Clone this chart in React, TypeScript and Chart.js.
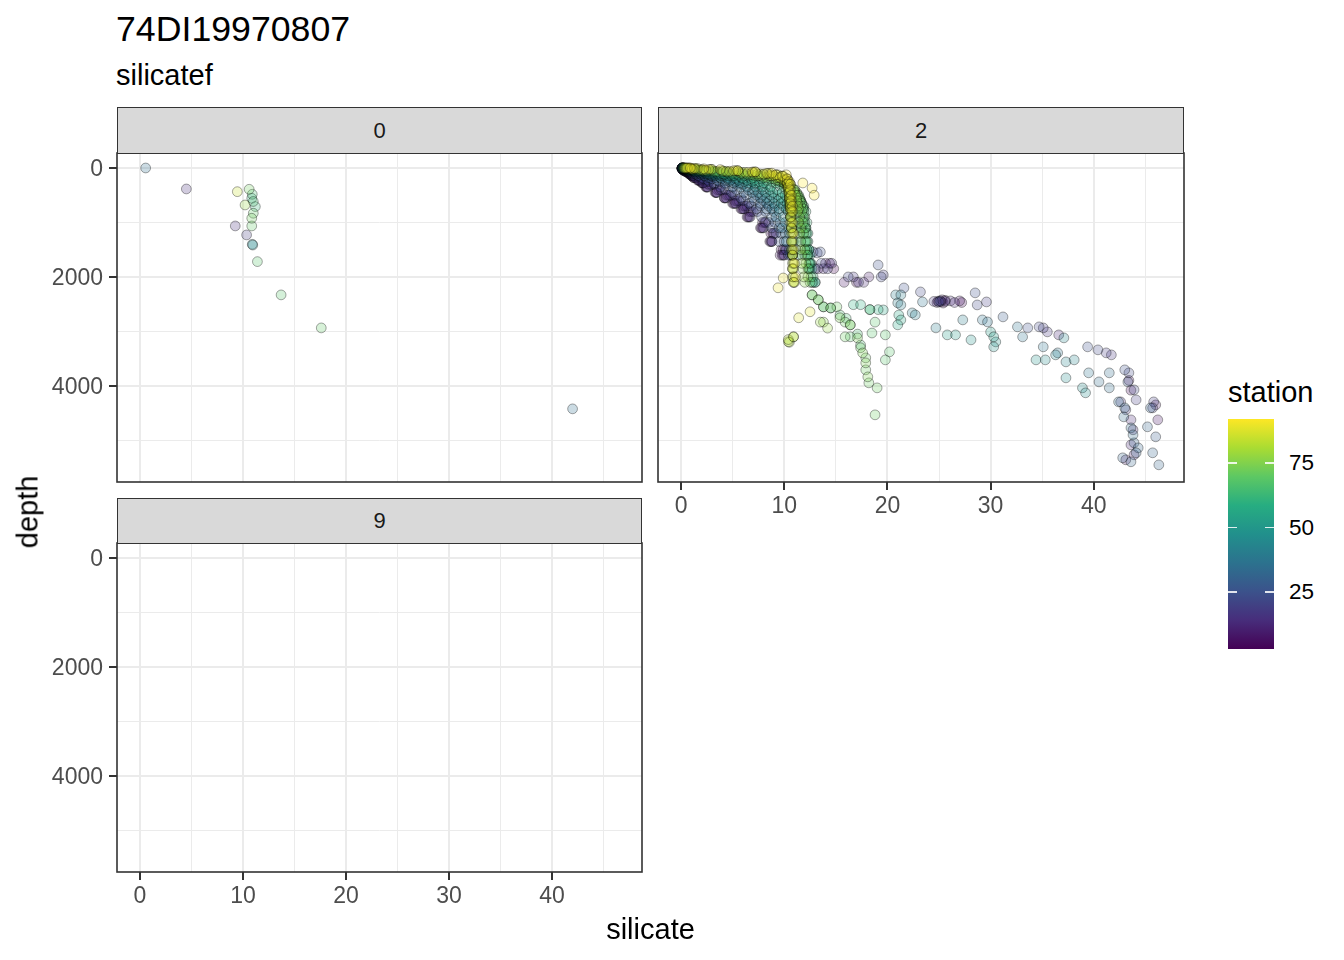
import React, { useEffect, useRef } from "react";
import { Chart, registerables } from "chart.js";

Chart.register(...registerables);

const FONT = "'Liberation Sans', Arial, Helvetica, sans-serif";

// ---- axes ----
const xLimits = [-2.233, 48.74];
const yLimits = [-275, 5765];
const xMajor = [0, 10, 20, 30, 40];
const xMinor = [5, 15, 25, 35, 45];
const yMajor = [0, 2000, 4000];
const yMinor = [1000, 3000, 5000];
const legendBreaks = [25, 50, 75];
const stationRange = [3, 92];

const titleText = "74DI19970807";
const subtitleText = "silicatef";
const xTitle = "silicate";
const yTitle = "depth";
const legendTitle = "station";
const facetLabels = ["0", "2", "9"];

// ---- panel "0" ----
const p0Station = [35, 15, 85, 72, 65, 60, 65, 78, 62, 70, 72, 15, 70, 18, 45, 45, 68, 68, 70, 35];
const p0Silicate = [0.55, 4.5, 9.45, 10.6, 10.9, 10.85, 11.0, 10.2, 11.2, 11.0, 10.85, 9.25, 10.85, 10.35, 10.9, 10.95, 11.4, 13.7, 17.6, 42.0];
const p0Depth = [0, 385, 435, 391, 483, 556, 615, 679, 709, 831, 923, 1064, 1064, 1229, 1401, 1415, 1719, 2330, 2936, 4422];

// ---- panel "2": bottle depths (two sampling schemes) ----
const depthsA = [0, 10, 25, 50, 75, 100, 125, 150, 200, 250, 300, 400, 500, 600, 700, 800, 1000, 1200, 1500, 1750, 2000];
const depthsB = [5, 20, 40, 60, 80, 110, 140, 175, 225, 275, 350, 450, 550, 650, 750, 900, 1100, 1350, 1600, 1850, 2100];

// silicate at those depths, per station
const sil90 = [0.6,1.3,2.7,5.1,6.9,8.3,9.2,9.8,10.3,10.5,10.6,10.6,10.7,10.7,10.8,10.8,10.8,10.9,10.9,11.0,11.1];
const sil88 = [0.5,1.1,2.4,4.7,6.5,8.0,9.0,9.6,10.1,10.3,10.4,10.5,10.5,10.6,10.6,10.6,10.7,10.7,10.8,10.8,10.9];
const sil86 = [0.8,1.6,3.0,5.5,7.2,8.6,9.4,9.9,10.3,10.4,10.5,10.5,10.6,10.6,10.6,10.7,10.7,10.8,10.8,10.9,10.9];
const sil84 = [0.4,1.0,2.2,4.4,6.2,7.7,8.7,9.4,10.0,10.3,10.4,10.5,10.6,10.6,10.7,10.7,10.7,10.8,10.8,10.9,11.0];
const sil82 = [0.7,1.4,2.9,5.3,7.0,8.4,9.2,9.8,10.2,10.3,10.4,10.4,10.5,10.5,10.6,10.6,10.6,10.7,10.7,10.8,10.8];
const sil80 = [0.3,0.9,2.0,4.1,5.9,7.4,8.5,9.2,9.9,10.2,10.3,10.4,10.5,10.5,10.6,10.6,10.7,10.7,10.8,10.8,10.9];
const sil78 = [0.5,1.0,2.0,4.0,5.6,7.0,8.0,8.8,9.7,10.2,10.6,10.9,11.1,11.2,11.3,11.3,11.4,11.5,11.6,11.7,11.9];
const sil76 = [0.4,0.9,1.8,3.5,5.0,6.4,7.5,8.3,9.4,10.0,10.5,11.0,11.2,11.3,11.4,11.5,11.6,11.6,11.7,11.8,12.0];
const sil74 = [0.4,0.7,1.5,3.0,4.4,5.8,6.9,7.8,9.0,9.8,10.4,11.0,11.3,11.5,11.6,11.7,11.8,11.9,12.0,12.1,12.3];
const sil71 = [0.5,0.8,1.6,3.2,4.6,6.0,7.1,8.0,9.2,10.0,10.6,11.2,11.5,11.7,11.8,11.9,12.0,12.1,12.2,12.3,12.5];
const sil68 = [0.3,0.6,1.3,2.7,4.0,5.4,6.5,7.4,8.7,9.6,10.3,11.0,11.4,11.6,11.8,11.9,12.0,12.1,12.2,12.4,12.6];
const sil65 = [0.3,0.6,1.2,2.5,3.7,5.0,6.1,7.0,8.3,9.2,10.0,10.9,11.4,11.7,11.9,12.0,12.1,12.2,12.3,12.4,12.7];
const sil62 = [0.2,0.5,1.1,2.3,3.4,4.6,5.6,6.5,7.8,8.8,9.6,10.6,11.2,11.6,11.9,12.1,12.2,12.3,12.4,12.5,12.8];
const sil59 = [0.3,0.5,1.1,2.2,3.2,4.2,5.1,5.9,7.1,8.0,8.7,9.8,10.5,11.1,11.5,11.8,12.1,12.3,12.5,12.7,13.0];
const sil57 = [0.3,0.5,1.0,2.1,3.0,4.0,4.8,5.6,6.8,7.6,8.3,9.3,10.1,10.7,11.2,11.5,11.9,12.2,12.4,12.6];
const sil55 = [0.3,0.5,1.0,2.0,2.9,3.8,4.6,5.3,6.4,7.2,7.9,8.9,9.7,10.3,10.8,11.2,11.7,12.0,12.3,12.5,12.8];
const sil52 = [0.2,0.4,0.9,1.8,2.6,3.5,4.2,4.9,6.0,6.9,7.6,8.6,9.4,10.0,10.5,10.9,11.4,11.8,12.2,12.5];
const sil49 = [0.2,0.4,0.8,1.6,2.4,3.2,3.9,4.5,5.6,6.5,7.2,8.2,9.0,9.7,10.2,10.6,11.2,11.6,12.0,12.4,13.0];
const sil46 = [0.2,0.4,0.7,1.5,2.2,2.9,3.6,4.2,5.3,6.1,6.8,7.9,8.7,9.4,9.9,10.4,11.0,11.5,12.0];
const sil43 = [0.2,0.3,0.7,1.3,2.0,2.7,3.3,3.8,4.8,5.7,6.4,7.5,8.3,9.0,9.5,9.9,10.5,10.9,11.4];
const sil40 = [0.2,0.3,0.6,1.2,1.9,2.5,3.0,3.6,4.5,5.3,6.0,7.1,7.9,8.6,9.1,9.5,10.1,10.5,11.1];
const sil37 = [0.2,0.3,0.6,1.2,1.8,2.4,2.9,3.4,4.3,5.1,5.8,6.9,7.7,8.3,8.8,9.2,9.8,10.2,10.8];
const sil34 = [0.2,0.3,0.5,1.0,1.6,2.1,2.6,3.0,3.9,4.7,5.4,6.5,7.3,8.0,8.5,9.0,9.6,10.1,10.7];
const sil31 = [0.1,0.3,0.5,0.9,1.4,1.9,2.3,2.7,3.5,4.3,5.0,6.1,7.0,7.7,8.3,8.8,9.5,10.0,10.6];
const sil28 = [0.1,0.2,0.4,0.8,1.2,1.6,2.0,2.3,3.0,3.7,4.3,5.4,6.3,7.1,7.7,8.2,9.1,9.7,10.5];
const sil25 = [0.1,0.2,0.4,0.7,1.0,1.4,1.7,2.0,2.6,3.2,3.8,4.9,5.8,6.6,7.3,7.8,8.8,9.5,10.4,13.0];
const sil22 = [0.1,0.2,0.3,0.6,0.9,1.2,1.5,1.7,2.2,2.7,3.2,4.3,5.2,6.0,6.8,7.4,8.5,9.2,10.2,13.6,16.2];
const sil19 = [0.1,0.2,0.3,0.5,0.8,1.0,1.2,1.4,1.8,2.2,2.6,3.5,4.4,5.3,6.1,6.7,8.0,8.8,10.0,14.2,17.2];
const sil16 = [0.1,0.2,0.3,0.5,0.8,1.1,1.3,1.5,2.0,2.5,2.9,3.9,4.8,5.6,6.4,7.0,8.2,9.0,10.1,14.6,16.7];
const sil13 = [0.1,0.1,0.2,0.4,0.7,0.9,1.1,1.3,1.7,2.1,2.5,3.4,4.2,5.1,5.9,6.5,7.8,8.7,9.8,13.8,17.7];
const sil10 = [0.1,0.2,0.3,0.5,0.8,1.0,1.2,1.4,1.9,2.3,2.7,3.7,4.6,5.4,6.2,6.8,8.1,8.9,9.9,14.0,18.2];
const sil7 = [0.1,0.1,0.2,0.4,0.6,0.8,1.0,1.2,1.6,2.0,2.4,3.3,4.2,5.0,5.8,6.4,7.7,8.6,9.6,13.3,15.8];
const sil5 = [0.1,0.2,0.3,0.5,0.7,0.9,1.1,1.3,1.8,2.2,2.6,3.5,4.4,5.2,6.0,6.6,7.9,8.7,9.7,14.4];
const sil3 = [0.1,0.1,0.2,0.4,0.6,0.8,1.0,1.2,1.7,2.1,2.5,3.4,4.3,5.2,6.0,6.6,7.9,8.8,9.9,14.8,17.0];

// extra / deep bottles per station: [silicate, depth]
const extra92 = [[0.9,0],[2.2,15],[3.8,30],[5.5,50],[7.2,70],[8.8,95],[10.2,125],[11.8,275],[12.7,370],[12.9,500]];
const deep90 = [[9.9,2020],[9.4,2200]];
const deep88 = [[11.4,2750],[12.5,2640]];
const deep86: number[][] = [];
const deep84 = [[10.9,3100]];
const deep82 = [[10.4,3190],[10.4,3150]];
const deep80 = [[10.9,3100],[10.5,3200]];
const deep78 = [[13.5,2830],[14.2,2940]];
const deep76 = [[12.7,2330],[13.3,2420],[13.8,2830]];
const deep74 = [[13.8,2550],[14.5,2570],[15.4,2750],[16.4,2880],[17.1,3120],[17.6,3395],[17.9,3578],[18.1,3835]];
const deep71 = [[15.1,2550],[15.9,2830],[15.9,3100],[17.4,3300],[17.9,3486],[17.9,3706],[18.2,3945],[19,4037],[18.8,4532]];
const deep68 = [[16.4,2880],[16.4,3100],[18.8,2830],[18.5,3030],[19.8,3064],[20.2,3376],[19.8,3523]];
const deep65 = [[15.4,2700],[16,2760],[17.1,3050],[17.4,3250],[18.3,2600]];
const deep62 = [[12.7,2330],[13.3,2420]];
const deep59 = [[16.7,2510],[17.4,2510],[18.3,2600],[19.1,2600]];
const deep57 = [[13.8,2550],[14.5,2570]];
const deep55 = [[19.6,2606],[21.1,2700],[21.3,2790],[21,2880]];
const deep52 = [[25.8,3064],[26.6,3064],[30,3010],[30.3,3100]];
const deep49 = [[28.1,3156],[30.5,3193],[30.3,3284],[34.4,3523]];
const deep46 = [[35.3,3523],[37.3,3853],[38.9,4037],[39.2,4128]];
const deep43 = [[36.3,3431],[37.1,3119],[37.3,3560],[38.1,3523]];
const deep40 = [[20.8,2330],[21.3,2330],[21,2477],[21.3,2514],[22.4,2660],[22.7,2697],[24.7,2936],[27.3,2789]];
const deep37 = [[23.4,2459],[29.2,2789],[29.7,2826],[32.6,2917],[33.1,3101],[35.1,3284],[36.5,3394],[39.5,3761]];
const deep34 = [[40.5,3927],[41.5,4037],[41.5,3761],[42.4,4294],[43,4404],[42.9,4569],[43.6,4771],[43.8,4899]];
const deep31 = [[43.9,5046],[44.3,5138],[44.1,5229],[42.8,5321],[43.6,5394],[45.5,4404],[45.2,4752],[45.7,5229],[46.3,5450]];
const deep28 = [[46,4936],[43.3,3927],[31.2,2734]];
const deep25 = [[12.8,1541],[13.5,1541],[19.1,1780],[21.6,2202],[25,2459],[28.5,2293],[33.6,2936],[39.4,3284],[43,3706]];
const deep22 = [[13.2,1560],[19.4,2000],[23.2,2275],[25.1,2440],[28.7,2514],[34.7,2917],[40.4,3339],[43.4,3761],[43.9,4073]];
const deep19 = [[19.6,1963],[25.6,2450],[29.6,2459],[35.1,2936],[41.2,3394],[44.1,4257],[45.8,4294],[45.7,4404]];
const deep16 = [[24.5,2450],[35.5,3009],[41.7,3431],[42.6,4294],[43.1,4440]];
const deep13 = [[26.1,2440],[26.5,2470],[36.6,3064],[43.6,4624],[43.8,4807],[43.6,5083]];
const deep10 = [[24.8,2470],[25.3,2420],[43.9,5266],[43.1,5358]];
const deep7 = [[25.2,2455],[27,2440],[46,4349],[46.2,4624]];
const deep5 = [[25.4,2480],[27.2,2470],[43.4,3900],[43.6,4080]];
const deep3 = [[24.9,2445],[25.6,2430]];

// [station, depth set, silicate at those depths, extra bottles]
const panel2Stations: [number, number[], number[], number[][]][] = [
  [92, [], [], extra92],
  [90, depthsA, sil90, deep90], [88, depthsB, sil88, deep88], [86, depthsA, sil86, deep86],
  [84, depthsB, sil84, deep84], [82, depthsA, sil82, deep82], [80, depthsB, sil80, deep80],
  [78, depthsA, sil78, deep78], [76, depthsB, sil76, deep76],
  [74, depthsA, sil74, deep74], [71, depthsB, sil71, deep71], [68, depthsA, sil68, deep68],
  [65, depthsB, sil65, deep65], [62, depthsA, sil62, deep62],
  [59, depthsB, sil59, deep59], [57, depthsA, sil57, deep57],
  [55, depthsB, sil55, deep55], [52, depthsA, sil52, deep52], [49, depthsB, sil49, deep49], [46, depthsA, sil46, deep46],
  [43, depthsB, sil43, deep43], [40, depthsA, sil40, deep40],
  [37, depthsB, sil37, deep37], [34, depthsA, sil34, deep34], [31, depthsB, sil31, deep31],
  [28, depthsA, sil28, deep28], [25, depthsB, sil25, deep25],
  [22, depthsA, sil22, deep22], [19, depthsB, sil19, deep19], [16, depthsA, sil16, deep16], [13, depthsB, sil13, deep13],
  [10, depthsA, sil10, deep10], [7, depthsB, sil7, deep7], [5, depthsA, sil5, deep5], [3, depthsB, sil3, deep3],
];

// ---- colours ----
const viridisStops = ["#440154", "#472D7B", "#3B528B", "#2C728E", "#21908C", "#27AD81", "#5DC863", "#AADC32", "#FDE725"];

function hexRgb(h: string) {
  return [parseInt(h.slice(1, 3), 16), parseInt(h.slice(3, 5), 16), parseInt(h.slice(5, 7), 16)];
}
function viridis(station: number) {
  let t = (station - stationRange[0]) / (stationRange[1] - stationRange[0]);
  t = Math.max(0, Math.min(1, t));
  const pos = t * (viridisStops.length - 1);
  const i = Math.min(viridisStops.length - 2, Math.floor(pos));
  const f = pos - i;
  const a = hexRgb(viridisStops[i]);
  const b = hexRgb(viridisStops[i + 1]);
  return a.map((v, k) => Math.round(v + (b[k] - v) * f));
}
function fillFor(station: number) {
  const c = viridis(station);
  return `rgba(${c[0]},${c[1]},${c[2]},0.25)`;
}

type Group = { station: number; pts: { x: number; y: number }[] };

function panel0Groups(): Group[] {
  const map = new Map<number, Group>();
  p0Station.forEach((s, i) => {
    if (!map.has(s)) map.set(s, { station: s, pts: [] });
    map.get(s)!.pts.push({ x: p0Silicate[i], y: p0Depth[i] });
  });
  return Array.from(map.values());
}
function panel2Groups(): Group[] {
  return panel2Stations.map(([s, depths, sil, extra]) => ({
    station: s,
    pts: [
      ...sil.map((v, i) => ({ x: v, y: depths[i] })),
      ...extra.map((p) => ({ x: p[0], y: p[1] })),
    ],
  }));
}

const borderPlugin = {
  id: "panelBorder",
  afterDraw(chart: any) {
    const { ctx, chartArea: a } = chart;
    ctx.save();
    ctx.strokeStyle = "#333333";
    ctx.lineWidth = 1.6;
    ctx.strokeRect(a.left, a.top, a.right - a.left, a.bottom - a.top);
    ctx.restore();
  },
};

const AXW = 100;
const AXH = 60;
const PAD = 10;

type PanelProps = {
  label: string;
  L: number; T: number; R: number; B: number;
  stripTop: number;
  showX: boolean; showY: boolean;
  groups: Group[];
};

function Panel(p: PanelProps) {
  const ref = useRef<HTMLCanvasElement>(null);
  const W = p.R - p.L + AXW + PAD;
  const H = p.B - p.T + AXH + PAD;
  useEffect(() => {
    if (!ref.current) return;
    const groups = [...p.groups].sort((a, b) => b.station - a.station);
    const datasets = groups.map((g) => ({
      data: g.pts,
      backgroundColor: fillFor(g.station),
      borderColor: "rgba(0,0,0,0.34)",
      borderWidth: 1,
      pointRadius: 4.9,
      pointHoverRadius: 4.9,
      clip: 0,
    }));
    const xTickVals = [...xMajor, ...xMinor].sort((a, b) => a - b);
    const yTickVals = [...yMajor, ...yMinor].sort((a, b) => a - b);
    const chart = new Chart(ref.current, {
      type: "scatter",
      data: { datasets },
      plugins: [borderPlugin],
      options: {
        responsive: false,
        animation: false,
        events: [],
        devicePixelRatio: 1,
        layout: { padding: { left: 0, top: PAD, right: PAD, bottom: 0 } },
        plugins: { legend: { display: false }, tooltip: { enabled: false }, title: { display: false } },
        scales: {
          x: {
            type: "linear",
            position: "bottom",
            min: xLimits[0],
            max: xLimits[1],
            afterBuildTicks: (s: any) => { s.ticks = xTickVals.map((v) => ({ value: v })); },
            afterFit: (s: any) => { s.height = AXH; s.paddingLeft = 0; s.paddingRight = 0; },
            border: { display: false },
            grid: {
              color: "#EBEBEB",
              lineWidth: (c: any) => (xMajor.includes(c.tick?.value) ? 2 : 1),
              drawTicks: p.showX,
              tickLength: 8,
              tickWidth: 2,
              tickColor: (c: any) => (xMajor.includes(c.tick?.value) ? "#333333" : "rgba(0,0,0,0)"),
            },
            ticks: {
              display: p.showX,
              autoSkip: false,
              maxRotation: 0,
              padding: 3,
              color: "#4D4D4D",
              font: { size: 23, family: FONT },
              callback: (v: any) => (xMajor.includes(Number(v)) ? String(v) : ""),
            },
          },
          y: {
            type: "linear",
            position: "left",
            reverse: true,
            min: yLimits[0],
            max: yLimits[1],
            afterBuildTicks: (s: any) => { s.ticks = yTickVals.map((v) => ({ value: v })); },
            afterFit: (s: any) => { s.width = AXW; s.paddingTop = 0; s.paddingBottom = 0; },
            border: { display: false },
            grid: {
              color: "#EBEBEB",
              lineWidth: (c: any) => (yMajor.includes(c.tick?.value) ? 2 : 1),
              drawTicks: p.showY,
              tickLength: 8,
              tickWidth: 2,
              tickColor: (c: any) => (yMajor.includes(c.tick?.value) ? "#333333" : "rgba(0,0,0,0)"),
            },
            ticks: {
              display: p.showY,
              autoSkip: false,
              padding: 6,
              labelOffset: 1.5,
              color: "#4D4D4D",
              font: { size: 23, family: FONT },
              callback: (v: any) => (yMajor.includes(Number(v)) ? String(v) : ""),
            },
          },
        },
      } as any,
    });
    return () => chart.destroy();
  }, []);
  return (
    <>
      <canvas
        ref={ref}
        width={W}
        height={H}
        style={{ position: "absolute", left: p.L - AXW, top: p.T - PAD, width: W, height: H }}
      />
      <div
        style={{
          position: "absolute",
          left: p.L,
          top: p.stripTop,
          width: p.R - p.L,
          height: p.T - p.stripTop + 1,
          boxSizing: "border-box",
          background: "#D9D9D9",
          border: "1.6px solid #333333",
          display: "flex",
          alignItems: "center",
          justifyContent: "center",
          fontFamily: FONT,
          fontSize: 22,
          color: "#1A1A1A",
        }}
      >
        {p.label}
      </div>
    </>
  );
}

function Legend() {
  const barTop = 419;
  const barH = 230;
  const barLeft = 1228;
  const barW = 46;
  const yOf = (s: number) => barTop + barH - ((s - stationRange[0]) / (stationRange[1] - stationRange[0])) * barH;
  const grad = `linear-gradient(to top, ${viridisStops.join(", ")})`;
  return (
    <>
      <div style={{ position: "absolute", left: barLeft, top: 377.5, fontFamily: FONT, fontSize: 29, lineHeight: "29px", color: "#000", whiteSpace: "nowrap" }}>
        {legendTitle}
      </div>
      <div style={{ position: "absolute", left: barLeft, top: barTop, width: barW, height: barH, background: grad }} />
      {legendBreaks.map((b) => (
        <React.Fragment key={b}>
          <div style={{ position: "absolute", left: barLeft, top: yOf(b) - 0.75, width: 9, height: 1.5, background: "rgba(255,255,255,0.85)" }} />
          <div style={{ position: "absolute", left: barLeft + barW - 9, top: yOf(b) - 0.75, width: 9, height: 1.5, background: "rgba(255,255,255,0.85)" }} />
          <div style={{ position: "absolute", left: 1289, top: yOf(b), transform: "translateY(-50%)", fontFamily: FONT, fontSize: 22.5, lineHeight: "22.5px", color: "#000" }}>
            {String(b)}
          </div>
        </React.Fragment>
      ))}
    </>
  );
}

export default function App() {
  return (
    <div style={{ position: "absolute", left: 0, top: 0, width: 1344, height: 960, background: "#fff", overflow: "hidden" }}>
      <div style={{ position: "absolute", left: 116, top: 12, fontFamily: FONT, fontSize: 35.7, lineHeight: "35px", color: "#000", whiteSpace: "nowrap" }}>
        {titleText}
      </div>
      <div style={{ position: "absolute", left: 116, top: 60.5, fontFamily: FONT, fontSize: 29, lineHeight: "29px", color: "#000", whiteSpace: "nowrap" }}>
        {subtitleText}
      </div>
      <Panel label={facetLabels[0]} L={117} T={153} R={642} B={482} stripTop={107} showX={false} showY={true} groups={panel0Groups()} />
      <Panel label={facetLabels[1]} L={658} T={153} R={1184} B={482} stripTop={107} showX={true} showY={false} groups={panel2Groups()} />
      <Panel label={facetLabels[2]} L={117} T={543} R={642} B={872} stripTop={498} showX={true} showY={true} groups={[]} />
      <div style={{ position: "absolute", left: 650.5, top: 915, transform: "translateX(-50%)", fontFamily: FONT, fontSize: 29, lineHeight: "29px", color: "#000", whiteSpace: "nowrap" }}>
        {xTitle}
      </div>
      <div style={{ position: "absolute", left: 28, top: 512, transform: "translate(-50%, -50%) rotate(-90deg)", fontFamily: FONT, fontSize: 29, lineHeight: "29px", color: "#000", whiteSpace: "nowrap" }}>
        {yTitle}
      </div>
      <Legend />
    </div>
  );
}
